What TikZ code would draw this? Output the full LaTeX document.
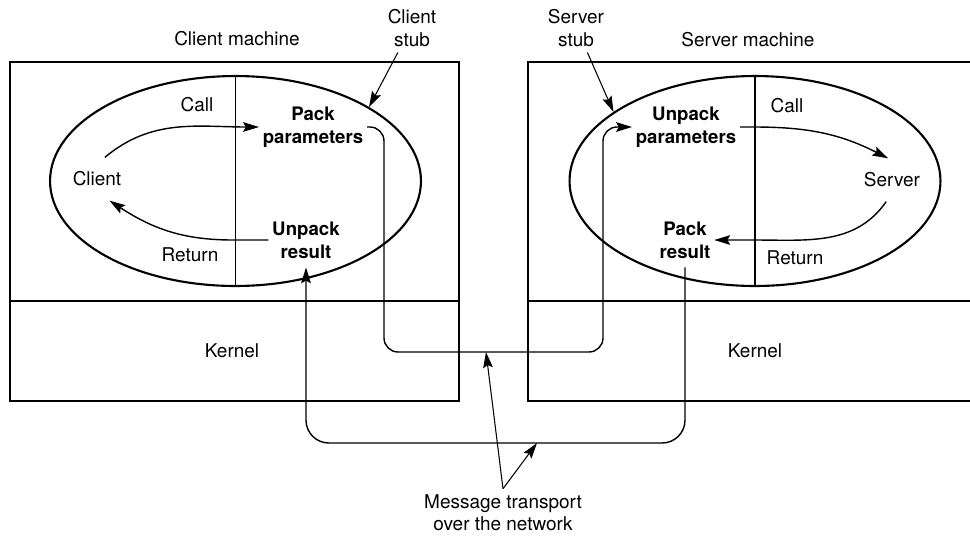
\documentclass[tikz,border=0pt]{standalone}
\usepackage{fontspec}
\setmainfont{TeX Gyre Heros}
\usetikzlibrary{arrows.meta,shapes.geometric}

\begin{document}
\begin{tikzpicture}[x=0.02cm, y=-0.02cm,
    every node/.style={font=\fontsize{10.8pt}{12.6pt}\selectfont},
    stub/.style={draw, ellipse, line width=1.2pt, minimum width=7.42cm, minimum height=4.2cm, inner sep=0pt},
    proc/.style={font=\fontsize{10.6pt}{13pt}\selectfont\bfseries, align=center, inner xsep=2pt, inner ysep=5pt},
    side/.style={inner sep=8pt},
    flow/.style={-{Stealth[length=9pt,width=5.5pt,inset=1.5pt]}, line width=0.8pt},
    pointer/.style={-{Stealth[length=9pt,width=5.5pt,inset=1.5pt]}, line width=0.6pt},
    wire/.style={line width=0.7pt, rounded corners=8pt},
    box/.style={line width=1.1pt}]
    \useasboundingbox (0,0) rectangle (970,535);

    \draw[box] (10,62) rectangle (459,401);
    \draw[box] (975,62) -- (528,62) -- (528,401) -- (975,401);
    \draw[line width=0.7pt] (10,301) -- (459,301);
    \draw[line width=0.7pt] (528,301) -- (975,301);

    \node (cmach) at (237,39) {Client machine};
    \node (smach) at (748,40) {Server machine};
    \node[align=center] (cstubl) at (412,28) {Client\\stub};
    \node[align=center] (sstubl) at (576,28) {Server\\stub};
    \node (ckern) at (232,351) {Kernel};
    \node (skern) at (755,351) {Kernel};

    \node[stub] (cstub) at (235.5,181) {};
    \node[stub] (sstub) at (755,181) {};
    \draw[line width=0.9pt] (cstub.north) -- (cstub.south);
    \draw[line width=0.9pt] (sstub.north) -- (sstub.south);

    \node[side] (client) at (97,179) {Client};
    \node[side] (server) at (892,180) {Server};
    \node[proc] (packp) at (313,127) {Pack\\parameters};
    \node[proc] (unpackr) at (306,240) {Unpack\\result};
    \node[proc] (unpackp) at (686,127) {Unpack\\parameters};
    \node[proc] (packr) at (685,240) {Pack\\result};
    \node (ccall) at (197,105) {Call};
    \node (cret) at (190,255) {Return};
    \node (scall) at (787,106) {Call};
    \node (sret) at (795,258) {Return};

    \draw[flow] (client.70) to[out=40,in=180] (packp.west);
    \draw[flow] (unpackr.west) -- (233,240) to[out=180,in=-33] (client.-60);
    \draw[flow] (unpackp.east) -- (754,127) to[out=0,in=153] (server.100);
    \draw[flow] (server.-105) to[out=-125,in=0] (754,240) -- (packr.east);

    \draw[pointer] (cstubl.-120) -- (cstub.29);
    \draw[pointer] (sstubl.-65) -- (sstub.154);

    \coordinate (highwire) at (486,352);
    \coordinate (lowwire) at (537,443);
    \draw[wire, flow] (packp.east) -| (384,352) -| (603,127) -- (unpackp.west);
    \draw[wire, flow, rounded corners=13pt] (packr.south) |- (unpackr.south |- lowwire) -- (unpackr.south);

    \node[align=center] (msg) at (503,513) {Message transport\\over the network};
    \draw[pointer] (msg.north) -- (highwire);
    \draw[pointer] (msg.north) -- (lowwire);
\end{tikzpicture}
\end{document}
